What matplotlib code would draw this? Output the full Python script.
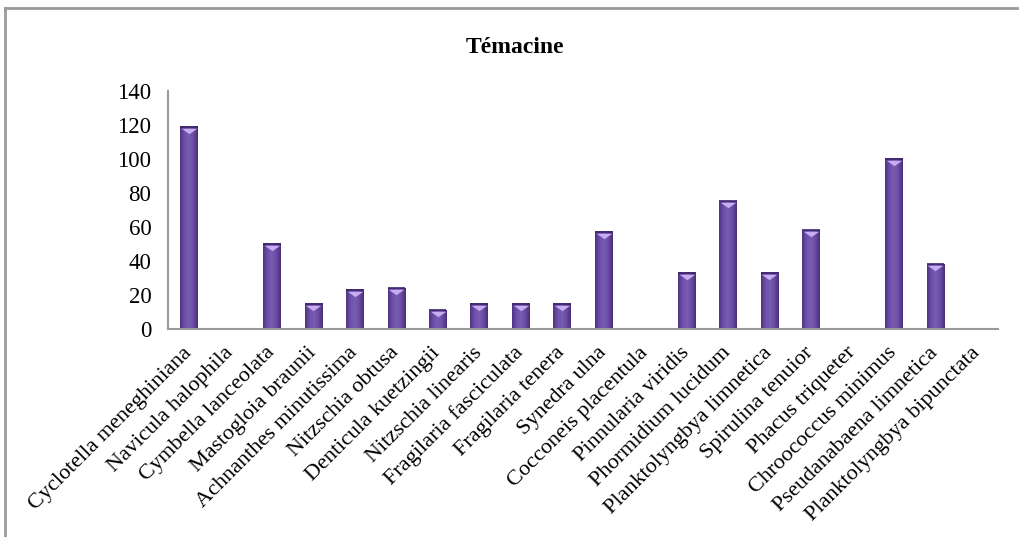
"""Phytoplankton taxa counts at Témacine — single bar panel."""
import matplotlib as mpl
import matplotlib.pyplot as plt
import numpy as np
from matplotlib.colors import LinearSegmentedColormap
from matplotlib.lines import Line2D
from matplotlib.path import Path
from matplotlib.transforms import offset_copy

mpl.rcParams.update({
    "font.family": "Liberation Serif",
    "font.size": 16,
    "axes.spines.top": False, "axes.spines.right": False,
})

TITLE = "Témacine"
TAXA = [
    "Cyclotella meneghiniana", "Navicula halophila", "Cymbella lanceolata",
    "Mastogloia braunii", "Achnanthes minutissima", "Nitzschia obtusa",
    "Denticula kuetzingii", "Nitzschia linearis", "Fragilaria fasciculata",
    "Fragilaria tenera", "Synedra ulna", "Cocconeis placentula",
    "Pinnularia viridis", "Phormidium lucidum", "Planktolyngbya limnetica",
    "Spirulina tenuior", "Phacus triqueter", "Chroococcus minimus",
    "Pseudanabaena limnetica", "Planktolyngbya bipunctata",
]
COUNTS = [119, 0, 50, 15, 23, 24, 11, 15, 15, 15,
          57, 0, 33, 75, 33, 58, 0, 100, 38, 0]
Y_TICKS = [0, 20, 40, 60, 80, 100, 120, 140]

# cylinder-like shading across each bar
BAR_CMAP = LinearSegmentedColormap.from_list(
    "bar", ["#4f3384", "#6d50a8", "#7a5cb5", "#6a4ca3", "#4a2e7a"])
CAP = "#c8aef0"
AXIS_GREY = "#9a9a9a"


def main() -> None:
    fig = plt.figure(figsize=(10.19, 5.37), dpi=100)
    ax = fig.add_axes([0.165, 0.387, 0.814, 0.444])

    x = np.arange(len(TAXA))
    counts = np.array(COUNTS, dtype=float)
    bars = ax.bar(x, counts, width=0.42, color="none", edgecolor="none", zorder=2)

    grad = np.linspace(0, 1, 64).reshape(1, -1)
    for b in bars:
        h = b.get_height()
        if h <= 0:
            continue
        x0, w = b.get_x(), b.get_width()
        ax.imshow(grad, cmap=BAR_CMAP, aspect="auto", interpolation="bilinear",
                  extent=(x0, x0 + w, 0, h), zorder=2)
        # thin dark rim at the top of the bar
        ax.plot([x0, x0 + w], [h, h], color="#3d2468", lw=1.2, zorder=3,
                solid_capstyle="butt")

    # light bevel triangle just under each bar top
    cap = Path([(-1, 0.35), (1, 0.35), (0, -0.35), (-1, 0.35)],
               [Path.MOVETO, Path.LINETO, Path.LINETO, Path.CLOSEPOLY])
    nz = counts > 0
    ax.plot(x[nz], counts[nz], ls="none", marker=cap, ms=11, color=CAP,
            mec="none", zorder=4,
            transform=offset_copy(ax.transData, fig=fig, y=-4, units="dots"))

    ax.set_xlim(-0.5, len(TAXA) - 0.5)
    ax.set_ylim(0, 140)
    ax.set_yticks(Y_TICKS)
    ax.set_xticks(x)
    ax.set_xticklabels(TAXA, rotation=45, ha="right", va="center",
                       rotation_mode="anchor")
    ax.tick_params(axis="x", length=0, labelsize=16, pad=15)
    ax.tick_params(axis="y", length=0, labelsize=16.5, pad=12)
    for s in ("left", "bottom"):
        ax.spines[s].set_color(AXIS_GREY)
        ax.spines[s].set_linewidth(1.5)

    fig.text(0.505, 0.912, TITLE, ha="center", va="center",
             fontsize=17, fontweight="bold")

    # outer chart-area frame
    fig.add_artist(Line2D([5 / 1019, 1], [1 - 8 / 537] * 2,
                          transform=fig.transFigure, color=AXIS_GREY, lw=2))
    fig.add_artist(Line2D([5 / 1019] * 2, [0, 1 - 8 / 537],
                          transform=fig.transFigure, color=AXIS_GREY, lw=2))

    fig.savefig("out.png", dpi=100, facecolor="white")


if __name__ == "__main__":
    main()
